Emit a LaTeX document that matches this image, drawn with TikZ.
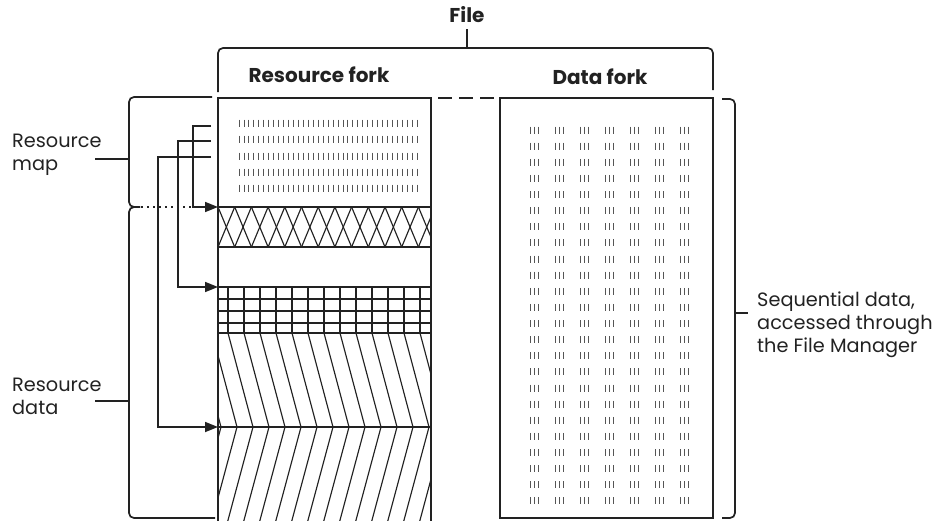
\documentclass[tikz,border=0pt]{standalone}
\usepackage{fontspec}
\setmainfont{Poppins}
\usetikzlibrary{arrows.meta}
\definecolor{ink}{HTML}{222222}
\definecolor{tickgray}{HTML}{555555}

\begin{document}
\begin{tikzpicture}[x=1pt,y=-1pt,
  frame/.style={draw=ink,line width=2pt},
  band/.style={draw=ink,line width=1.8pt},
  hatch/.style={draw=ink,line width=1.15pt},
  tickmark/.style={draw=tickgray,line width=0.85pt},
  bracket/.style={draw=ink,line width=1.7pt,rounded corners=5pt},
  ptr/.style={draw=ink,line width=1.7pt,-{Triangle[length=13pt,width=10pt]}},
  lbl/.style={font=\fontsize{19.3}{23}\selectfont,text=ink,align=left,anchor=west,inner sep=0pt},
  hdr/.style={font=\bfseries\fontsize{20}{24}\selectfont,text=ink,inner sep=0pt}]
\useasboundingbox (0,0) rectangle (945,520);

% headings
\node[hdr] (file) at (467,15) {File};
\node[hdr] (rfork) at (319,75) {Resource fork};
\node[hdr] (dfork) at (600,77) {Data fork};

% bracket spanning both forks
\coordinate (filejoin) at (467,48);
\draw[bracket] (218,92) -- (218,48) -- (713,48) -- (713,90);
\draw[bracket] (file.south) ++(0,6) -- (filejoin);

% resource fork outline (runs off the bottom)
\draw[frame] (218,522) -- (218,98) -- (431,98) -- (431,522);
% link between the forks
\draw[frame,dash pattern=on 14pt off 7pt] (438,98) -- (494,98);
% data fork outline
\draw[frame] (500,98) rectangle (713,518);

% resource map: rows of ticks
\foreach \r in {123,139,156,172,188}
  \foreach \i in {0,...,36}
    \draw[tickmark] (239+4.95*\i,\r-3.5) -- ++(0,7);

% cross-hatched band
\begin{scope}
  \clip (218,207) rectangle (431,247);
  \foreach \k in {0,...,12} {
    \draw[hatch] (218+16.7*\k,207) -- (234.7+16.7*\k,247);
    \draw[hatch] (218+16.7*\k,247) -- (234.7+16.7*\k,207);
  }
\end{scope}

% grid band
\foreach \x in {228,244,...,420}
  \draw[hatch] (\x,287) -- (\x,333);
\foreach \y in {299,311,323}
  \draw[hatch] (218,\y) -- (431,\y);

% chevron bands
\begin{scope}
  \clip (218,333) rectangle (431,522);
  \foreach \k in {-1,...,13} {
    \pgfmathsetmacro\xb{237+16*\k}
    \draw[hatch] (\xb-25,333) -- (\xb,427) -- (\xb-25.5,522);
  }
\end{scope}

% band boundaries
\foreach \y in {207,247,287,333,427}
  \draw[band] (218,\y) -- (431,\y);

% data fork: columns of ticks
\foreach \r in {0,...,23}
  \foreach \c in {0,...,6}
    \foreach \t in {0,1,2}
      \draw[tickmark] (530+25*\c+4*\t,130+16.13*\r-3.5) -- ++(0,7);

% left brackets
\draw[bracket] (212,97) -- (129,97) -- (129,207) -- (140,207);
\draw[bracket] (140,207) -- (129,207) -- (129,518) -- (215,518);
\draw[bracket] (95,159) -- (129,159);
\draw[bracket] (95,401) -- (129,401);
\draw[draw=ink,line width=1.5pt,dash pattern=on 1.5pt off 4.5pt] (141,207) -- (193,207);

\node[lbl] (maplbl) at (12,155) {Resource\\map};
\node[lbl] (datalbl) at (12,396) {Resource\\data};

% references from the map into the data
\coordinate (m1) at (211,126);
\coordinate (m2) at (211,141);
\coordinate (m3) at (211,157);
\coordinate (d1) at (218,207);
\coordinate (d2) at (218,287);
\coordinate (d3) at (218,427);
\draw[ptr] (m1) -- (193,126) |- (d1);
\draw[ptr] (m2) -- (178,141) |- (d2);
\draw[ptr] (m3) -- (158,157) |- (d3);

% right bracket
\draw[bracket] (722,99) -- (735,99) -- (735,518) -- (722,518);
\draw[bracket] (735,313) -- (748,313);
\node[lbl] (seqlbl) at (757,325) {Sequential data,\\accessed through\\the File Manager};
\end{tikzpicture}
\end{document}
